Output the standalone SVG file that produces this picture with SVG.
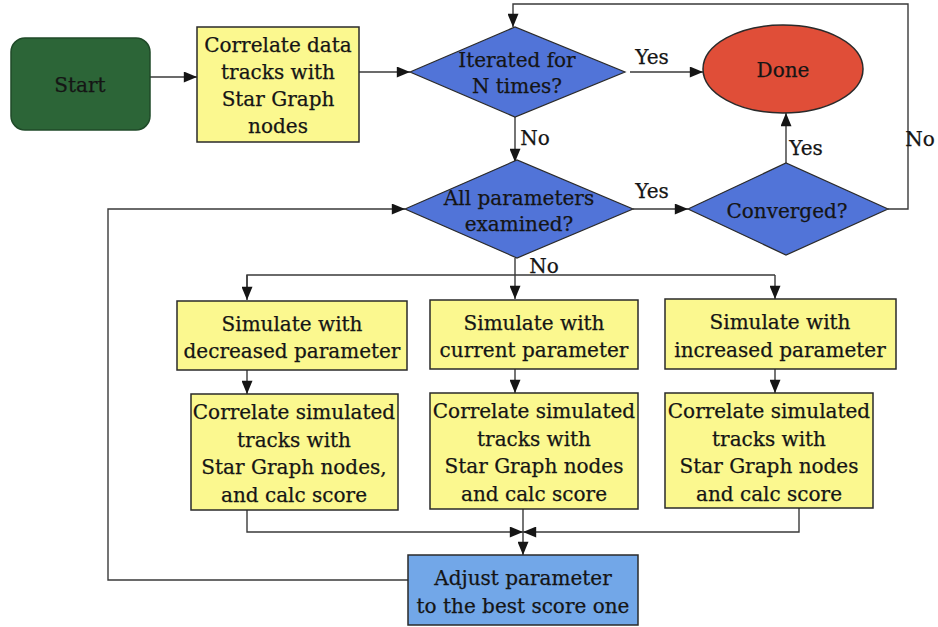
<svg xmlns="http://www.w3.org/2000/svg" width="938" height="627" viewBox="0 0 938 627">
  <defs>
    <marker id="arrow" viewBox="0 0 12 10" refX="12" refY="5" markerWidth="14" markerHeight="11" markerUnits="userSpaceOnUse" orient="auto">
      <path d="M0,0 L12,5 L0,10 z" fill="#151515"/>
    </marker>
    <style>
      text { font-family: "DejaVu Serif", "Liberation Serif", serif; font-size: 20px; fill: #151515; stroke: #151515; stroke-width: 0.25; text-anchor: middle; }
      .box { fill: #fbf88f; stroke: #2a2a2a; stroke-width: 1.5; }
      .dec { fill: #5174d8; stroke: #2a2a2a; stroke-width: 1.2; }
      .start { fill: #2c6537; stroke: #1f4a28; stroke-width: 1.5; }
      .done { fill: #e04e38; stroke: #2a2a2a; stroke-width: 1.5; }
      .adjust { fill: #72a7e8; stroke: #2a2a2a; stroke-width: 1.5; }
      .edge { fill: none; stroke: #3a3a3a; stroke-width: 1.4; }
      .arr { marker-end: url(#arrow); }
    </style>
  </defs>
  <rect width="938" height="627" fill="#ffffff"/>

  <!-- connectors -->
  <g id="connectors">
    <line class="edge arr" x1="150" y1="77" x2="197" y2="77"/>
    <line class="edge arr" x1="352" y1="72" x2="410" y2="72"/>
    <line class="edge arr" x1="630" y1="72" x2="703" y2="72"/>
    <line class="edge arr" x1="515" y1="117" x2="515" y2="162"/>
    <polyline class="edge arr" points="888,209 908,209 908,4 513,4 513,27"/>
    <line class="edge arr" x1="633" y1="209" x2="688" y2="209"/>
    <line class="edge arr" x1="786" y1="163" x2="786" y2="113"/>
    <polyline class="edge" points="247,298 247,275 775,275"/>
    <line class="edge arr" x1="247" y1="275" x2="247" y2="300"/>
    <line class="edge arr" x1="515" y1="258" x2="515" y2="299"/>
    <line class="edge arr" x1="775" y1="275" x2="775" y2="299"/>
    <line class="edge arr" x1="247" y1="370" x2="247" y2="394"/>
    <line class="edge arr" x1="515" y1="369" x2="515" y2="393"/>
    <line class="edge arr" x1="775" y1="369" x2="775" y2="393"/>
    <polyline class="edge arr" points="247,510 247,532 523,532"/>
    <polyline class="edge arr" points="799,508 799,532 523,532"/>
    <line class="edge arr" x1="523" y1="509" x2="523" y2="555"/>
    <polyline class="edge arr" points="408,580 108,580 108,209 405,209"/>
  </g>

  <!-- connector labels -->
  <g id="labels">
    <text x="652" y="64">Yes</text>
    <text x="535" y="145">No</text>
    <text x="652" y="198">Yes</text>
    <text x="806" y="155">Yes</text>
    <text x="920" y="146">No</text>
    <text x="544" y="273">No</text>
  </g>

  <g id="start">
    <rect class="start" x="11" y="38" width="139" height="92" rx="14" ry="14"/>
    <text x="80" y="92">Start</text>
  </g>

  <g id="correlate-data">
    <rect class="box" x="197" y="27" width="162" height="115"/>
    <text x="278" y="52">Correlate data</text>
    <text x="278" y="79">tracks with</text>
    <text x="278" y="106">Star Graph</text>
    <text x="278" y="133">nodes</text>
  </g>

  <g id="iterated">
    <polygon class="dec" points="410,72 515,27 625,72 515,117"/>
    <text x="517" y="67">Iterated for</text>
    <text x="517" y="93">N times?</text>
  </g>

  <g id="done">
    <ellipse class="done" cx="783" cy="69" rx="80" ry="44"/>
    <text x="783" y="77">Done</text>
  </g>

  <g id="all-parameters">
    <polygon class="dec" points="405,209 517,160 633,209 517,258"/>
    <text x="519" y="205">All parameters</text>
    <text x="519" y="231">examined?</text>
  </g>

  <g id="converged">
    <polygon class="dec" points="688,209 786,163 888,209 786,255"/>
    <text x="787" y="218">Converged?</text>
  </g>

  <g id="sim-decreased">
    <rect class="box" x="177" y="301" width="230" height="69"/>
    <text x="292" y="331">Simulate with</text>
    <text x="292" y="358">decreased parameter</text>
  </g>

  <g id="sim-current">
    <rect class="box" x="430" y="300" width="208" height="69"/>
    <text x="534" y="330">Simulate with</text>
    <text x="534" y="357">current parameter</text>
  </g>

  <g id="sim-increased">
    <rect class="box" x="665" y="299" width="231" height="70"/>
    <text x="780" y="329">Simulate with</text>
    <text x="780" y="357">increased parameter</text>
  </g>

  <g id="corr-decreased">
    <rect class="box" x="191" y="394" width="207" height="116"/>
    <text x="294" y="419">Correlate simulated</text>
    <text x="294" y="447">tracks with</text>
    <text x="294" y="474">Star Graph nodes,</text>
    <text x="294" y="502">and calc score</text>
  </g>

  <g id="corr-current">
    <rect class="box" x="430" y="393" width="208" height="116"/>
    <text x="534" y="418">Correlate simulated</text>
    <text x="534" y="446">tracks with</text>
    <text x="534" y="473">Star Graph nodes</text>
    <text x="534" y="501">and calc score</text>
  </g>

  <g id="corr-increased">
    <rect class="box" x="665" y="393" width="208" height="115"/>
    <text x="769" y="418">Correlate simulated</text>
    <text x="769" y="446">tracks with</text>
    <text x="769" y="473">Star Graph nodes</text>
    <text x="769" y="501">and calc score</text>
  </g>

  <g id="adjust">
    <rect class="adjust" x="408" y="555" width="230" height="70"/>
    <text x="523" y="585">Adjust parameter</text>
    <text x="523" y="613">to the best score one</text>
  </g>
</svg>
